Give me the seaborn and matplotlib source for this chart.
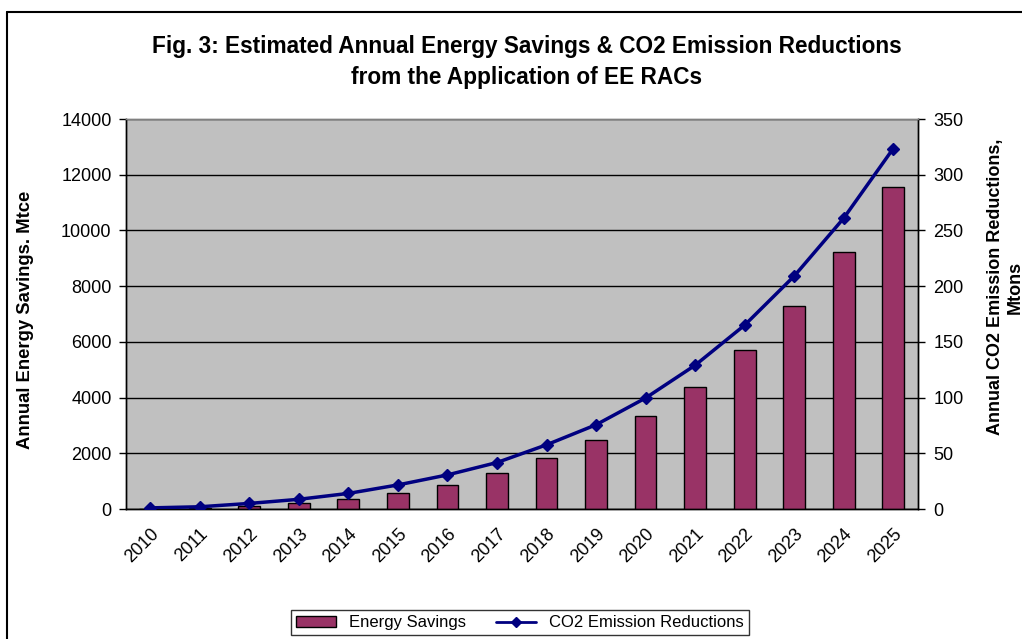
import numpy as np
import pandas as pd
import matplotlib
matplotlib.use("Agg")
import matplotlib.pyplot as plt
from matplotlib.lines import Line2D
from matplotlib.patches import Patch
import seaborn as sns

years = [str(y) for y in range(2010, 2026)]
energy_savings = [10, 30, 100, 205, 350, 565, 865, 1280, 1820, 2480,
                  3350, 4370, 5700, 7270, 9220, 11550]
co2_reductions = [1, 2, 5, 8.7, 14, 21.6, 30.6, 41.7, 57.6, 75.6,
                  99.6, 129, 165, 209, 261, 323.5]

df = pd.DataFrame({"year": years, "energy": energy_savings, "co2": co2_reductions})

sns.set_style("white")
plt.rcParams["font.family"] = ["Liberation Sans", "DejaVu Sans"]
plt.rcParams["text.color"] = "black"
plt.rcParams["xtick.color"] = "black"
plt.rcParams["ytick.color"] = "black"

W, H = 1022, 639
fig = plt.figure(figsize=(W / 100, H / 100), dpi=100)
ax = fig.add_axes([125.5 / W, 1 - 509 / H, (918 - 125.5) / W, (509 - 119) / H])
ax.set_facecolor("#C0C0C0")

sns.barplot(data=df, x="year", y="energy", ax=ax, color="#993366",
            saturation=1, width=0.44, edgecolor="black", linewidth=1, zorder=3)
ax.set_ylim(0, 14000)
ax.set_xlim(-0.5, len(years) - 0.5)
ax.set_yticks(np.arange(0, 14001, 2000))
ax.yaxis.grid(True, color="black", linewidth=1)
ax.set_axisbelow(True)
ax.set_xlabel("")
ax.set_ylabel("")

ax2 = ax.twinx()
ax2.plot(np.arange(len(years)), df["co2"], color="#000080", linewidth=2.5,
         marker="D", markersize=6, zorder=4)
ax2.set_ylim(0, 350)
ax2.set_yticks(np.arange(0, 351, 50))
ax2.set_ylabel("")

# ticks: labels at category centres, tick marks at category boundaries
ax.set_xticks(np.arange(len(years)))
ax.set_xticklabels(years, rotation=45, ha="right", va="top", rotation_mode="anchor")
ax.set_xticks(np.arange(len(years) + 1) - 0.5, minor=True)
ax.tick_params(axis="x", which="major", length=0, pad=12, labelsize=13)
ax.tick_params(axis="x", which="minor", length=5, width=1, color="black", direction="out")
ax.tick_params(axis="y", length=5, width=1, color="black", direction="out",
               pad=5, labelsize=13, left=True)
ax2.tick_params(axis="y", length=5, width=1, color="black", direction="out",
                pad=6, labelsize=13, right=True)

for a in (ax, ax2):
    for s in ("left", "bottom", "right"):
        a.spines[s].set_color("black")
        a.spines[s].set_linewidth(1)
    a.spines["top"].set_color("#808080")
    a.spines["top"].set_linewidth(1)

fig.text(526.5 / W, 1 - 62 / H,
         "Fig. 3: Estimated Annual Energy Savings & CO2 Emission Reductions\n"
         "from the Application of EE RACs",
         ha="center", va="center", fontsize=16.3, fontweight="bold", linespacing=1.45)
fig.text(26 / W, 1 - 320 / H, "Annual Energy Savings. Mtce", rotation=90,
         ha="center", va="center", fontsize=13.3, fontweight="bold")
fig.text(1005 / W, 1 - 287 / H, "Annual CO2 Emission Reductions,\nMtons", rotation=90,
         ha="center", va="center", fontsize=13, fontweight="bold",
         multialignment="center", linespacing=1.2)

handles = [Patch(facecolor="#993366", edgecolor="black", label="Energy Savings"),
           Line2D([], [], color="#000080", linewidth=2, marker="D", markersize=5,
                  label="CO2 Emission Reductions")]
leg = fig.legend(handles=handles, loc="upper center", bbox_to_anchor=(520 / W, 1 - 602 / H),
                 ncol=2, fontsize=12, frameon=True, fancybox=False, edgecolor="black",
                 handlelength=2.4, columnspacing=1.8, borderpad=0.3)
leg.get_frame().set_linewidth(1)

# outer chart border (top and left visible)
fig.add_artist(Line2D([7 / W, 1.0], [1 - 12 / H, 1 - 12 / H], color="black",
                      linewidth=1.5, transform=fig.transFigure))
fig.add_artist(Line2D([7 / W, 7 / W], [1 - 12 / H, 0], color="black",
                      linewidth=1.5, transform=fig.transFigure))

fig.savefig("out.png", dpi=100)
